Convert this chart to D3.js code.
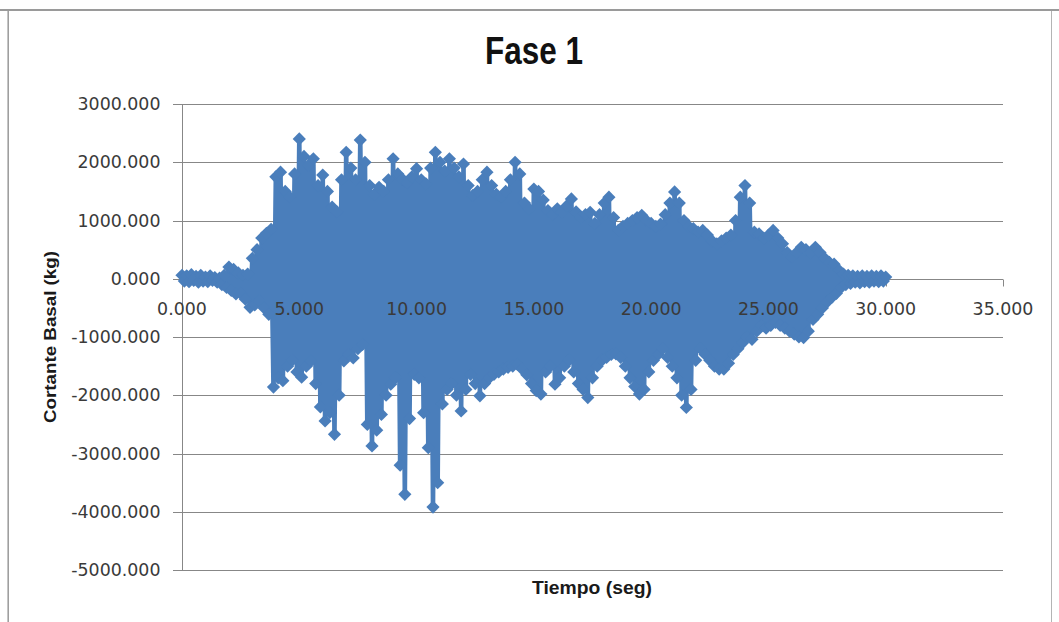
<!DOCTYPE html>
<html>
<head>
<meta charset="utf-8">
<script src="https://cdn.jsdelivr.net/npm/d3@7"></script>
<style>
  html, body { margin: 0; padding: 0; background: #ffffff; }
  svg { display: block; }
</style>
</head>
<body>
<svg id="chart" width="1059" height="622"></svg>
<script>
// ---------------- DATA ----------------
const chartTitle = "Fase 1";
const xTitle = "Tiempo (seg)";
const yTitle = "Cortante Basal (kg)";

const xTicks = [0, 5, 10, 15, 20, 25, 30, 35];
const yTicks = [3000, 2000, 1000, 0, -1000, -2000, -3000, -4000, -5000];

// half-cycle spacing (s): positive peaks at 0.0, 0.2, 0.4 ... ; negative peaks at 0.1, 0.3, 0.5 ...
const halfStep = 0.1;

// positive peaks of Cortante Basal (kg), one every 0.2 s from t = 0.0 s
const peaksUp = [
  60, 50, 70, 40, 60, 30, 50, 20, 10, 60,
  200, 160, 100, 60, 80, 350, 500, 700, 780, 850,
  1750, 1830, 1500, 1400, 1800, 2400, 2100, 1950, 2060, 1600,
  1780, 1500, 1230, 1150, 1700, 2170, 1900, 1700, 2380, 2000,
  1600, 1450, 1570, 1500, 1700, 2060, 1800, 1710, 1650, 1750,
  1890, 1700, 1630, 1900, 2170, 2000, 1850, 2060, 1900, 1750,
  1970, 1600, 1430, 1500, 1700, 1830, 1600, 1450, 1400, 1500,
  1700, 2000, 1800, 1300, 1200, 1540, 1500, 1350, 1170, 1100,
  1200, 1150, 1250, 1370, 1150, 1050, 1100, 1140, 950, 1100,
  1300, 1400, 1050, 830, 900, 950, 1000, 1050, 1090, 1000,
  950, 900, 940, 1100, 1300, 1490, 1300, 1000, 900, 860,
  800, 830, 750, 650, 600, 650, 700, 750, 1000, 1400,
  1600, 1300, 800, 770, 700, 750, 830, 700, 600, 450,
  370, 450, 540, 500, 450, 540, 450, 350, 280, 250,
  150, 80, 60, 50, 40, 50, 40, 50, 40, 50,
  30
];

// negative peaks of Cortante Basal (kg), one every 0.2 s from t = 0.1 s
const peaksDown = [
  -40, -50, -30, -60, -40, -50, -30, -60, -100, -150,
  -200, -260, -250, -350, -490, -450, -380, -500, -610, -1860,
  -1700, -1750, -1500, -1400, -1600, -1690, -1500, -1410, -1800, -2200,
  -2440, -2300, -2670, -2000, -1410, -1300, -1360, -1200, -1125, -2500,
  -2870, -2600, -2330, -2000, -1810, -1700, -3200, -3700, -2400, -1640,
  -1700, -2300, -2900, -3920, -3500, -2150, -1900, -1800, -2000, -2270,
  -1900, -1640, -1800, -2010, -1800, -1700, -1640, -1600, -1550, -1520,
  -1500, -1470, -1550, -1650, -1800, -1920, -1980, -1600, -1500, -1810,
  -1700, -1500, -1400, -1600, -1800, -1900, -2040, -1700, -1500, -1400,
  -1350, -1300, -1290, -1350, -1500, -1700, -1850, -1980, -1900, -1600,
  -1400, -1300, -1200, -1350, -1500, -1700, -2000, -2210, -1900, -1400,
  -1200, -1300, -1400, -1500, -1550, -1550, -1450, -1300, -1200, -1100,
  -1000, -1040, -900, -800, -850, -800, -750, -800, -850, -900,
  -950, -1000, -1010, -900, -700, -610, -500, -400, -320, -250,
  -150, -100, -80, -60, -70, -50, -60, -40, -50, -40
];

// ---------------- BUILD SERIES ----------------
const upPts = peaksUp.map((v, i) => ({ t: +(2 * i * halfStep).toFixed(2), v }));
const downPts = peaksDown.map((v, i) => ({ t: +((2 * i + 1) * halfStep).toFixed(2), v }));
const series = [];
for (let i = 0; i < upPts.length; i++) {
  series.push(upPts[i]);
  if (i < downPts.length) series.push(downPts[i]);
}

// ---------------- LAYOUT ----------------
const svg = d3.select("#chart");
const plot = { left: 182, right: 1003, top: 104, bottom: 570 };
const blue = "#4a7ebb";
const gridColor = "#878787";
const labelColor = "#3a3a3a";
const fmt = v => d3.format(".3f")(v).replace("\u2212", "-");

const x = d3.scaleLinear().domain([0, 35]).range([plot.left, plot.right]);
const y = d3.scaleLinear().domain([-5000, 3000]).range([plot.bottom, plot.top]);

// outer chart frame
svg.append("rect")
  .attr("x", 8.5).attr("y", 10.5).attr("width", 1043).attr("height", 640)
  .attr("fill", "#fff").attr("stroke", "#b4b4b4").attr("stroke-width", 1);
svg.append("line")
  .attr("x1", 8).attr("x2", 8).attr("y1", 10).attr("y2", 622)
  .attr("stroke", "#8a8a8a").attr("stroke-width", 1);
svg.append("line")
  .attr("x1", 0).attr("x2", 1059).attr("y1", 10).attr("y2", 10)
  .attr("stroke", "#9a9a9a").attr("stroke-width", 2);

// gridlines
svg.append("g").selectAll("line").data(yTicks).join("line")
  .attr("x1", plot.left - 9).attr("x2", plot.right)
  .attr("y1", d => Math.round(y(d)) + 0.5).attr("y2", d => Math.round(y(d)) + 0.5)
  .attr("stroke", gridColor).attr("stroke-width", 1);

// y axis line
svg.append("line")
  .attr("x1", plot.left + 0.5).attr("x2", plot.left + 0.5)
  .attr("y1", plot.top).attr("y2", plot.bottom + 1)
  .attr("stroke", gridColor).attr("stroke-width", 1);

// x axis (at y = 0) with tick marks
const y0 = Math.round(y(0)) + 0.5;
svg.append("line")
  .attr("x1", plot.left).attr("x2", plot.right)
  .attr("y1", y0).attr("y2", y0)
  .attr("stroke", gridColor).attr("stroke-width", 1);
svg.append("g").selectAll("line").data(xTicks).join("line")
  .attr("x1", d => Math.round(x(d)) + 0.5).attr("x2", d => Math.round(x(d)) + 0.5)
  .attr("y1", y0).attr("y2", y0 + 7)
  .attr("stroke", gridColor).attr("stroke-width", 1);

// series: dense oscillation drawn as a thick line with diamond markers
svg.append("path")
  .datum(series)
  .attr("d", d3.line().x(d => x(d.t)).y(d => y(d.v)))
  .attr("fill", "none")
  .attr("stroke", blue)
  .attr("stroke-width", 4.6)
  .attr("stroke-linejoin", "round");

const dw = 6.6, dh = 6.6;
svg.append("g").selectAll("path").data(series).join("path")
  .attr("transform", d => `translate(${x(d.t)},${y(d.v)})`)
  .attr("d", `M0,${-dh}L${dw},0L0,${dh}L${-dw},0Z`)
  .attr("fill", blue);

// y tick labels
svg.append("g").selectAll("text").data(yTicks).join("text")
  .attr("x", 160.5)
  .attr("y", d => y(d) + 6)
  .attr("text-anchor", "end")
  .attr("font-family", "DejaVu Sans, Verdana, sans-serif")
  .attr("font-size", 17.4)
  .attr("fill", labelColor)
  .text(fmt);

// x tick labels
svg.append("g").selectAll("text").data(xTicks).join("text")
  .attr("x", d => x(d))
  .attr("y", 315)
  .attr("text-anchor", "middle")
  .attr("font-family", "DejaVu Sans, Verdana, sans-serif")
  .attr("font-size", 17.4)
  .attr("fill", labelColor)
  .text(fmt);

// title
svg.append("text")
  .attr("x", 485).attr("y", 64)
  .attr("font-family", "Liberation Sans, Arial, sans-serif")
  .attr("font-weight", "bold")
  .attr("font-size", 38)
  .attr("fill", "#111")
  .attr("textLength", 98).attr("lengthAdjust", "spacingAndGlyphs")
  .text(chartTitle);

// x axis title
svg.append("text")
  .attr("x", 532).attr("y", 594)
  .attr("font-family", "Liberation Sans, Arial, sans-serif")
  .attr("font-weight", "bold")
  .attr("font-size", 18)
  .attr("fill", "#1a1a1a")
  .attr("textLength", 120).attr("lengthAdjust", "spacingAndGlyphs")
  .text(xTitle);

// y axis title
svg.append("text")
  .attr("transform", "translate(56,423) rotate(-90)")
  .attr("x", 0).attr("y", 0)
  .attr("font-family", "Liberation Sans, Arial, sans-serif")
  .attr("font-weight", "bold")
  .attr("font-size", 16.5)
  .attr("fill", "#1a1a1a")
  .attr("textLength", 172).attr("lengthAdjust", "spacingAndGlyphs")
  .text(yTitle);
</script>
</body>
</html>
